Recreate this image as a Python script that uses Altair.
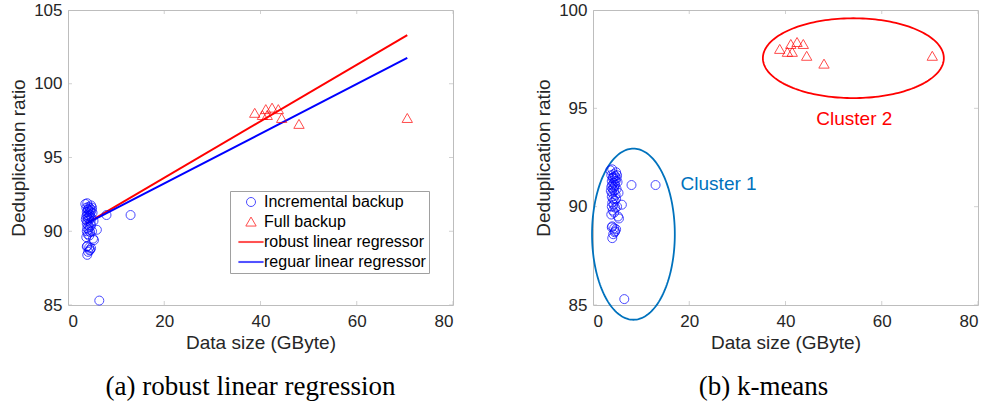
import altair as alt
import numpy as np
import pandas as pd

# ---------------- data ----------------
inc_x = [3.6, 4.0, 4.8, 5.0, 3.8, 4.2, 4.5, 3.9, 4.3, 4.6, 3.8, 4.1, 4.4, 4.0, 4.7,
         3.9, 4.2, 4.5, 4.0, 4.3, 3.9, 4.6, 4.1, 4.4, 3.8, 4.3, 4.6, 4.1, 4.7, 4.0,
         4.4, 4.9, 5.3, 6.0, 5.4, 5.2, 4.0, 4.4, 4.8, 3.9, 4.5, 4.2, 4.0, 4.6, 8.0,
         13.0, 6.5, 4.9, 5.1, 3.7, 4.8, 5.0]
inc_y = [91.85, 91.9, 91.75, 91.6, 91.6, 91.5, 91.4, 91.3, 91.2, 91.1, 91.0, 90.9, 90.8, 90.7, 90.6,
         90.5, 90.4, 90.3, 90.2, 90.1, 90.0, 89.95, 89.8, 89.7, 89.6, 91.65, 91.55, 91.45, 91.3, 91.1,
         91.0, 90.9, 90.7, 90.1, 89.4, 89.5, 89.0, 88.9, 88.85, 88.95, 88.7, 88.6, 88.4, 88.75, 91.1,
         91.1, 85.3, 91.45, 91.25, 90.8, 90.4, 90.0]
full_x = [38.8, 40.4, 41.1, 41.4, 42.4, 43.7, 44.4, 48.0, 70.5]
full_y = [98.0, 97.85, 98.25, 97.85, 98.35, 98.25, 97.65, 97.25, 97.65]

reg_x = [3.7, 70.5]
robust_y = [90.5, 103.3]
regular_y = [90.5, 101.75]

x_ticks = [0, 20, 40, 60, 80]
y_ticks_a = [85, 90, 95, 100, 105]
y_ticks_b = [85, 90, 95, 100]

# cluster ellipses: centre x, centre y, half-width, half-height (data units)
cluster1 = [8.4, 88.6, 8.6, 4.35]
cluster2 = [54.1, 97.55, 18.8, 2.03]
cluster_labels = ["Cluster 1", "Cluster 2"]
cluster_label_x = [18.2, 46.4]
cluster_label_y = [91.15, 94.45]

S_INC, S_FULL = "Incremental backup", "Full backup"
S_ROB, S_REG = "robust linear regressor", "reguar linear regressor"

BLUE, RED, MBLUE = "#0000FF", "#FF0000", "#0072BD"
FONT = "Liberation Sans"
BOX = "#bdbdbd"
LINE_SYM = "M-2.8,-0.12L2.8,-0.12M-2.8,0.12L2.8,0.12"
TRI_SYM = "M0,-1.1L1.15,0.9L-1.15,0.9Z"

pts = pd.DataFrame({
    "x": inc_x + full_x,
    "y": inc_y + full_y,
    "series": [S_INC] * len(inc_x) + [S_FULL] * len(full_x),
})
lines = pd.DataFrame({
    "x": reg_x + reg_x,
    "y": robust_y + regular_y,
    "series": [S_ROB] * 2 + [S_REG] * 2,
})


def ellipse(params):
    cx, cy, rx, ry = params
    t = np.linspace(0, 2 * np.pi, 181)
    return pd.DataFrame({"i": np.arange(len(t)), "x": cx + rx * np.cos(t), "y": cy + ry * np.sin(t)})


def tick_frames(ylo, yhi, yvals):
    xt = pd.DataFrame({"x": x_ticks * 2, "y": [ylo] * len(x_ticks) + [yhi] * len(x_ticks)})
    yt = pd.DataFrame({"x": [0] * len(yvals) + [80] * len(yvals), "y": yvals * 2})
    return xt, yt


xs = alt.Scale(domain=[0, 80], nice=False, zero=False)
x_axis = alt.Axis(values=x_ticks, title="Data size (GByte)", labelPadding=8, titlePadding=4)


def y_axis(vals):
    return alt.Axis(values=vals, title="Deduplication ratio", labelPadding=6, titlePadding=5)


def make_legend(lx, ly):
    return alt.Legend(title=None, orient="none", legendX=lx, legendY=ly, fillColor="white",
                      strokeColor="#a0a0a0", padding=3, labelFont=FONT, labelFontSize=16,
                      labelColor="black", symbolSize=81, symbolStrokeWidth=1, symbolOffset=10,
                      labelOffset=5, rowPadding=4, labelLimit=400)


def panel(ylo, yhi, yvals, series, colors, shapes, legend, extra_layers, caption, dx):
    ys = alt.Scale(domain=[ylo, yhi], nice=False, zero=False)
    X = alt.X("x:Q", scale=xs, axis=x_axis)
    Y = alt.Y("y:Q", scale=ys, axis=y_axis(yvals))
    cscale = alt.Scale(domain=series, range=colors)
    sscale = alt.Scale(domain=series, range=shapes)
    xt, yt = tick_frames(ylo, yhi, yvals)
    tx = alt.Chart(xt).mark_tick(orient="vertical", size=8, thickness=1, color=BOX, clip=True).encode(x=X, y=Y)
    ty = alt.Chart(yt).mark_tick(orient="horizontal", size=8, thickness=1, color=BOX, clip=True).encode(x=X, y=Y)
    layers = [tx, ty]
    for kind, df in extra_layers:
        if kind == "lines":
            layers.append(alt.Chart(df).mark_line(strokeWidth=2).encode(
                x=X, y=Y, color=alt.Color("series:N", scale=cscale, legend=legend)))
        elif kind == "ellipse":
            d, col = df
            layers.append(alt.Chart(d).mark_line(strokeWidth=1.8, color=col, clip=False).encode(
                x=X, y=Y, order="i:Q"))
        elif kind == "text":
            d, col = df
            layers.append(alt.Chart(d).mark_text(align="left", baseline="middle", font=FONT,
                                                 fontSize=19, color=col).encode(
                x=X, y=Y, text="label:N"))
    layers.append(alt.Chart(pts).mark_point(filled=False, size=81, strokeWidth=1).encode(
        x=X, y=Y,
        color=alt.Color("series:N", scale=cscale, legend=legend),
        shape=alt.Shape("series:N", scale=sscale, legend=legend)))
    return alt.layer(*layers).properties(
        width=385, height=295,
        title=alt.TitleParams(caption, orient="bottom", anchor="middle", font="Liberation Serif",
                              fontSize=27, fontWeight="normal", color="black", offset=22, dx=dx))


left = panel(85, 105, y_ticks_a,
             [S_INC, S_FULL, S_ROB, S_REG], [BLUE, RED, RED, BLUE],
             ["circle", TRI_SYM, LINE_SYM, LINE_SYM],
             make_legend(162, 181), [("lines", lines)], "(a) robust linear regression", -10)

lab1 = pd.DataFrame({"x": cluster_label_x[:1], "y": cluster_label_y[:1], "label": cluster_labels[:1]})
lab2 = pd.DataFrame({"x": cluster_label_x[1:], "y": cluster_label_y[1:], "label": cluster_labels[1:]})
right = panel(85, 100, y_ticks_b,
              [S_INC, S_FULL], [BLUE, RED], ["circle", TRI_SYM],
              make_legend(197, 174),
              [("ellipse", (ellipse(cluster1), MBLUE)), ("ellipse", (ellipse(cluster2), RED)),
               ("text", (lab1, MBLUE)), ("text", (lab2, RED))], "(b) k-means", -22)

chart = alt.hconcat(left, right, spacing=80).properties(
    padding={"left": 9, "top": 0, "right": 5, "bottom": 0}
).configure_view(stroke=BOX, strokeWidth=1).configure_axis(
    grid=False, ticks=False, tickSize=0, domain=False, labelFont=FONT, labelFontSize=17,
    labelColor="#262626", titleFont=FONT, titleFontSize=19, titleFontWeight="normal",
    titleColor="#262626"
)

chart.save("out.html", embed_options={"renderer": "svg", "actions": False})
